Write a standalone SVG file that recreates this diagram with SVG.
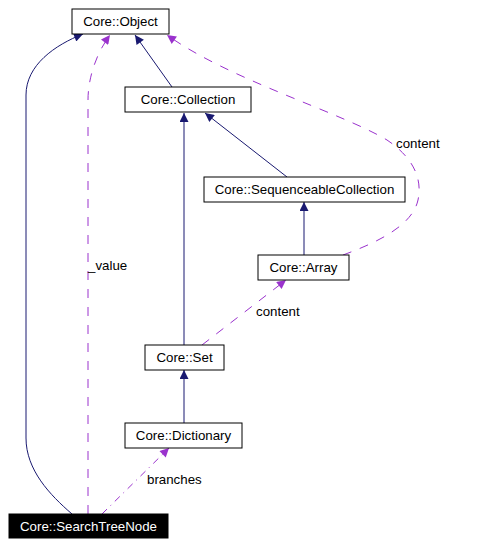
<svg xmlns="http://www.w3.org/2000/svg" width="494" height="546" viewBox="0 0 494 546">
<style>
text{font-family:"Liberation Sans",Arial,sans-serif;font-size:13.3px;fill:#000}
.n rect{fill:#fff;stroke:#000;stroke-width:1}
.n text{text-anchor:middle}
.e{fill:none;stroke-width:1}
.inh{stroke:#191970;marker-end:url(#an)}
.use{stroke:#9a32cd;stroke-dasharray:9,9;marker-end:url(#ap)}
.dd{stroke:#9a32cd;stroke-dasharray:7,5,1,5;marker-end:url(#ap)}
</style>
<defs>
<marker id="an" viewBox="0 0 10 10" refX="10" refY="5" markerUnits="userSpaceOnUse" markerWidth="12" markerHeight="9" orient="auto"><path d="M0,0 L10,5 L0,10 z" fill="#191970"/></marker>
<marker id="ap" viewBox="0 0 10 10" refX="10" refY="5" markerUnits="userSpaceOnUse" markerWidth="12" markerHeight="9" orient="auto"><path d="M0,0 L10,5 L0,10 z" fill="#9a32cd"/></marker>
</defs>
<rect width="494" height="546" fill="#fff"/>
<g id="edges">
<path class="e inh" d="M72,514 C50,495 26,470 26,438 L26,95 C26,65 55,45 83,34"/>
<path class="e use" d="M88,514 L88,100 C88,80 95,55 110,35"/>
<path class="e inh" d="M172,87 L135,35"/>
<path class="e inh" d="M287,177 L205,113"/>
<path class="e inh" d="M184,345 L184,113"/>
<path class="e inh" d="M304,255 L304,202"/>
<path class="e inh" d="M184,423 L184,370"/>
<path class="e use" d="M343,255 C370,245 412,228 418,200 C424,172 405,152 387,140 C340,112 230,80 167,35"/>
<path class="e use" d="M202,345 L286,280"/>
<path class="e dd" d="M102,514 L169,448"/>
<text x="88" y="270">_value</text>
<text x="396" y="148">content</text>
<text x="256" y="316">content</text>
<text x="147" y="484">branches</text>
</g>
<g id="object" class="n"><rect x="72" y="9" width="97" height="25"/><text x="120.5" y="26">Core::Object</text></g>
<g id="collection" class="n"><rect x="125" y="87" width="126" height="25"/><text x="188" y="104">Core::Collection</text></g>
<g id="seqcoll" class="n"><rect x="204" y="177" width="201" height="25"/><text x="304.5" y="194">Core::SequenceableCollection</text></g>
<g id="array" class="n"><rect x="258" y="255" width="91" height="25"/><text x="303.5" y="272">Core::Array</text></g>
<g id="set" class="n"><rect x="145" y="345" width="79" height="25"/><text x="184.5" y="362">Core::Set</text></g>
<g id="dictionary" class="n"><rect x="125" y="423" width="117" height="25"/><text x="183.5" y="440">Core::Dictionary</text></g>
<g id="searchtreenode" class="n"><rect x="9" y="514" width="159" height="24" style="fill:#000"/><text x="88.5" y="531" style="fill:#fff">Core::SearchTreeNode</text></g>
</svg>
